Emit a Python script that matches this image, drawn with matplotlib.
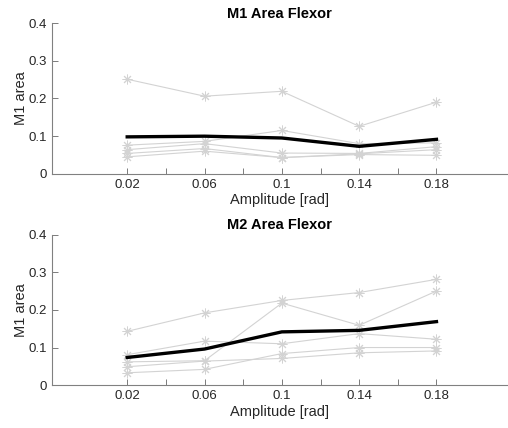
import matplotlib
matplotlib.use("Agg")
import matplotlib.pyplot as plt
import numpy as np

plt.rcParams['font.family'] = ['Liberation Sans', 'DejaVu Sans']

amplitude = [0.02, 0.06, 0.1, 0.14, 0.18]
tick_pos = [0.02, 0.04, 0.06, 0.08, 0.1, 0.12, 0.14, 0.16, 0.18]
tick_labels = ["0.02", "", "0.06", "", "0.1", "", "0.14", "", "0.18"]

# one row per subject
m1_area = [
    [0.251, 0.206, 0.219, 0.126, 0.190],
    [0.076, 0.086, 0.115, 0.080, 0.082],
    [0.064, 0.080, 0.055, 0.054, 0.072],
    [0.054, 0.067, 0.043, 0.053, 0.064],
    [0.045, 0.060, 0.043, 0.051, 0.049],
]
m2_area = [
    [0.143, 0.192, 0.225, 0.246, 0.281],
    [0.062, 0.065, 0.218, 0.159, 0.250],
    [0.081, 0.117, 0.110, 0.137, 0.122],
    [0.049, 0.064, 0.071, 0.086, 0.091],
    [0.033, 0.042, 0.084, 0.100, 0.100],
]
titles = ["M1 Area Flexor", "M2 Area Flexor"]

fig = plt.figure(figsize=(5.08, 4.28), dpi=100)
ax1 = fig.add_axes([0.102, 0.594, 0.898, 0.352])
ax2 = fig.add_axes([0.102, 0.100, 0.898, 0.352])

for ax, data, title in zip([ax1, ax2], [m1_area, m2_area], titles):
    for row in data:
        # asterisk marker like matlab '*'
        ax.plot(amplitude, row, "-", color="#d3d3d3", linewidth=0.8,
                marker=(8, 2, 0), markersize=7, markeredgewidth=0.7)
    ax.plot(amplitude, np.mean(data, axis=0), "-", color="black", linewidth=2.4)
    ax.set_xlim(-0.019, 0.217)
    ax.set_ylim(0, 0.4)
    ax.set_xticks(tick_pos)
    ax.set_xticklabels(tick_labels)
    ax.set_yticks([0, 0.1, 0.2, 0.3, 0.4])
    ax.set_yticklabels(["0", "0.1", "0.2", "0.3", "0.4"])
    ax.tick_params(direction="in", length=4, width=0.6, color="#666666",
                   labelcolor="#262626", labelsize=9.5)
    for side in ["top", "right"]:
        ax.spines[side].set_visible(False)
    for side in ["left", "bottom"]:
        ax.spines[side].set_color("#808080")
        ax.spines[side].set_linewidth(0.8)
    ax.set_title(title, fontsize=10.5, fontweight="bold", pad=4)
    ax.set_xlabel("Amplitude [rad]", fontsize=10.5, color="#262626", labelpad=2)
    ax.set_ylabel("M1 area", fontsize=10.5, color="#262626", labelpad=0)

fig.savefig("out.png", dpi=100)
